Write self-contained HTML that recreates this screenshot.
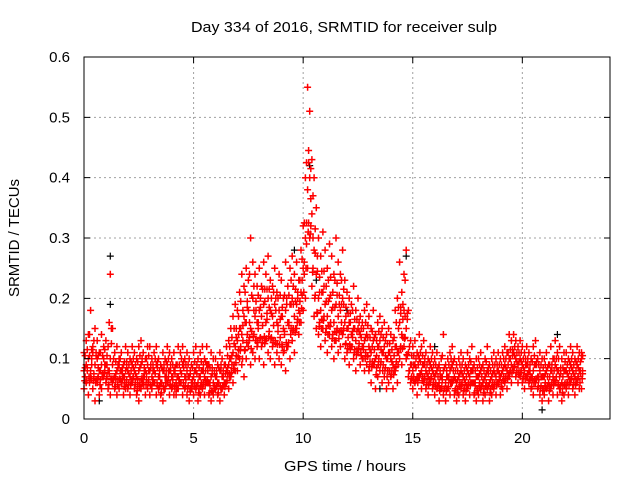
<!DOCTYPE html>
<html><head><meta charset="utf-8"><style>
body{margin:0;background:#fff}
svg{display:block;font-family:"Liberation Sans",sans-serif}
</style></head><body>
<svg width="640" height="480" viewBox="0 0 640 480">
<rect width="640" height="480" fill="#fff"/>
<g id="grid"></g>
<g id="marks"></g>
<rect x="84" y="57" width="526" height="362" fill="none" stroke="#000" stroke-width="1"/>
<g id="ticks"></g>
<text x="191" y="32" textLength="306" lengthAdjust="spacingAndGlyphs" font-size="15">Day 334 of 2016, SRMTID for receiver sulp</text>
<text x="284" y="471" textLength="122" lengthAdjust="spacingAndGlyphs" font-size="15">GPS time / hours</text>
<text transform="translate(19,238) rotate(-90)" text-anchor="middle" font-size="15">SRMTID / TECUs</text>
</svg>
<script>
const xTicks=[0,5,10,15,20];
const yTicks=[0,0.1,0.2,0.3,0.4,0.5,0.6];
const yTickLabels=["0","0.1","0.2","0.3","0.4","0.5","0.6"];
const timeStep=0.1;
const lowVals=[5,6,4,7,5,3,6,4,5,7, 6,5,4,6,5,4,5,6,4,5, 5,4,6,5,4,3,5,6,4,5, 4,5,6,4,5,4,3,5,6,4, 5,4,4,5,6,4,5,4,3,5, 4,5,3,4,5,4,6,4,3,4, 5,4,3,5,4,6,5,7,6,8, 8,10,9,7,10,12,9,11,10,12, 10,12,9,13,11,10,12,9,11,10, 9,11,8,12,10,13,11,15,14,16, 18,20,25,30,22,17,15,14,12,15, 13,11,14,12,10,13,11,12,14,10, 11,9,12,10,8,11,9,10,8,9, 8,6,9,5,7,8,6,7,5,6, 7,5,8,6,10,9,12,10,7,6, 5,6,4,7,5,6,5,4,6,5, 4,5,3,5,4,3,5,4,6,4, 3,4,5,4,3,5,4,6,4,3, 4,5,3,4,5,3,4,5,4,6, 4,5,6,5,7,6,8,7,6,7, 6,5,7,6,5,4,6,5,4,3, 4,5,3,5,4,6,4,5,3,4, 5,4,6,5,4,6,5,5];
const midVals=[8,9,10,8,11,9,10,8,9,10, 9,8,10,9,7,8,9,8,7,8, 8,7,9,8,7,8,9,7,8,9, 8,7,8,9,7,6,8,7,9,8, 7,8,6,7,8,9,7,8,7,6, 7,8,6,7,8,7,9,6,7,6, 7,6,8,7,6,8,9,10,11,12, 13,15,14,17,16,18,15,20,17,16, 18,17,19,16,20,18,17,19,16,18, 17,15,18,16,19,20,17,19,18,21, 25,30,38,40,34,28,24,20,18,21, 19,17,20,18,16,19,17,18,20,16, 15,16,14,15,13,15,14,12,13,14, 12,11,13,10,12,13,11,12,10,11, 10,9,12,11,16,14,18,15,11,9, 8,9,7,10,8,9,8,7,9,8, 7,8,6,7,8,6,7,8,9,7, 6,7,8,7,6,8,7,8,6,7, 7,8,6,7,8,6,7,8,7,8, 7,8,9,8,10,9,11,10,9,10, 9,8,9,8,7,8,9,7,8,7, 7,8,6,8,7,9,8,7,6,8, 8,7,9,8,7,9,8,10];
const highVals=[11,13,14,18,12,15,13,11,14,12, 13,12,24,15,11,12,10,11,9,12, 11,10,12,11,10,12,13,11,10,12, 12,10,11,12,10,9,11,10,12,11, 10,11,9,12,11,12,10,11,10,9, 11,12,10,11,12,10,12,9,11,10, 10,9,11,10,9,12,13,15,17,19, 18,21,24,22,25,23,30,26,24,22, 25,22,26,24,27,23,22,25,21,24, 23,20,26,22,25,27,24,26,23,28, 32,40,55,51,43,40,35,30,27,31, 28,25,29,27,24,30,26,24,28,23, 21,20,19,22,18,20,17,16,18,19, 17,15,18,14,16,17,15,16,14,15, 14,13,18,20,26,21,24,28,18,13, 12,13,11,14,12,13,11,10,12,11, 10,11,9,10,14,9,10,11,12,10, 9,10,11,10,9,11,10,12,9,10, 10,11,9,10,12,9,10,11,10,11, 10,11,12,11,14,13,14,13,12,13, 12,11,12,11,10,12,13,10,11,10, 10,11,9,12,10,13,11,12,10,11, 11,10,12,11,10,12,11,11];
const blackTimes=[0.7,1.2,1.2,3.1,6.9,9.6,10.3,10.6,12.0,13.5,14.7,16.0,20.9,21.6];
const blackVals=[0.03,0.27,0.19,0.05,0.12,0.28,0.42,0.23,0.18,0.05,0.27,0.12,0.015,0.14];
const X=t=>84+t*(526/24), Y=v=>419-v*(362/0.6);
const NS="http://www.w3.org/2000/svg";
const grid=document.getElementById('grid'),ticks=document.getElementById('ticks'),marks=document.getElementById('marks');
function mk(tag,attrs,parent){const e=document.createElementNS(NS,tag);for(const k in attrs)e.setAttribute(k,attrs[k]);parent.appendChild(e);return e;}
yTicks.forEach((v,i)=>{const y=Y(v);
 if(i>0&&i<yTicks.length-1){const g=mk('line',{x1:84,x2:610,y1:y,y2:y,stroke:'#a0a0a0','stroke-dasharray':'2,3'},grid);}
 const t=mk('path',{d:`M84 ${y}h6M610 ${y}h-6`,stroke:'#000'},ticks);
 const l=mk('text',{x:70,y:y+5,'text-anchor':'end','font-size':15},ticks);l.textContent=yTickLabels[i];});
xTicks.forEach(v=>{const x=X(v);
 if(v>0){const g=mk('line',{x1:x,x2:x,y1:57,y2:419,stroke:'#a0a0a0','stroke-dasharray':'2,3'},grid);}
 const t=mk('path',{d:`M${x} 419v-6M${x} 57v6`,stroke:'#000'},ticks);
 const l=mk('text',{x:x,y:443,'text-anchor':'middle','font-size':15},ticks);l.textContent=String(v);});
function plus(x,y){return `M${(x-3.5).toFixed(1)} ${y.toFixed(1)}h7M${x.toFixed(1)} ${(y-3.5).toFixed(1)}v7`;}
let bd='';blackTimes.forEach((t,i)=>{bd+=plus(X(t),Y(blackVals[i]));});
const bp=mk('path',{d:bd,stroke:'#000','stroke-width':1.2,fill:'none'},marks);


let rd='';
const n=lowVals.length;
for(let i=0;i<n;i++){
 const t=i*timeStep, j=Math.min(i+1,n-1), th=t+timeStep/2;
 rd+=plus(X(t),Y(lowVals[i]/100))+plus(X(t),Y(midVals[i]/100))+plus(X(t),Y(highVals[i]/100));
 rd+=plus(X(th),Y((lowVals[i]+midVals[j])/200))+plus(X(th),Y((midVals[i]+highVals[j])/200));
 rd+=plus(X(th),Y((highVals[i]+lowVals[j])/200))+plus(X(t+0.03),Y((lowVals[i]+lowVals[j]+midVals[i])/300));
}
const rp=mk('path',{d:rd,stroke:'#ff0000','stroke-width':1.5,fill:'none'},marks);


</script>
</body></html>
